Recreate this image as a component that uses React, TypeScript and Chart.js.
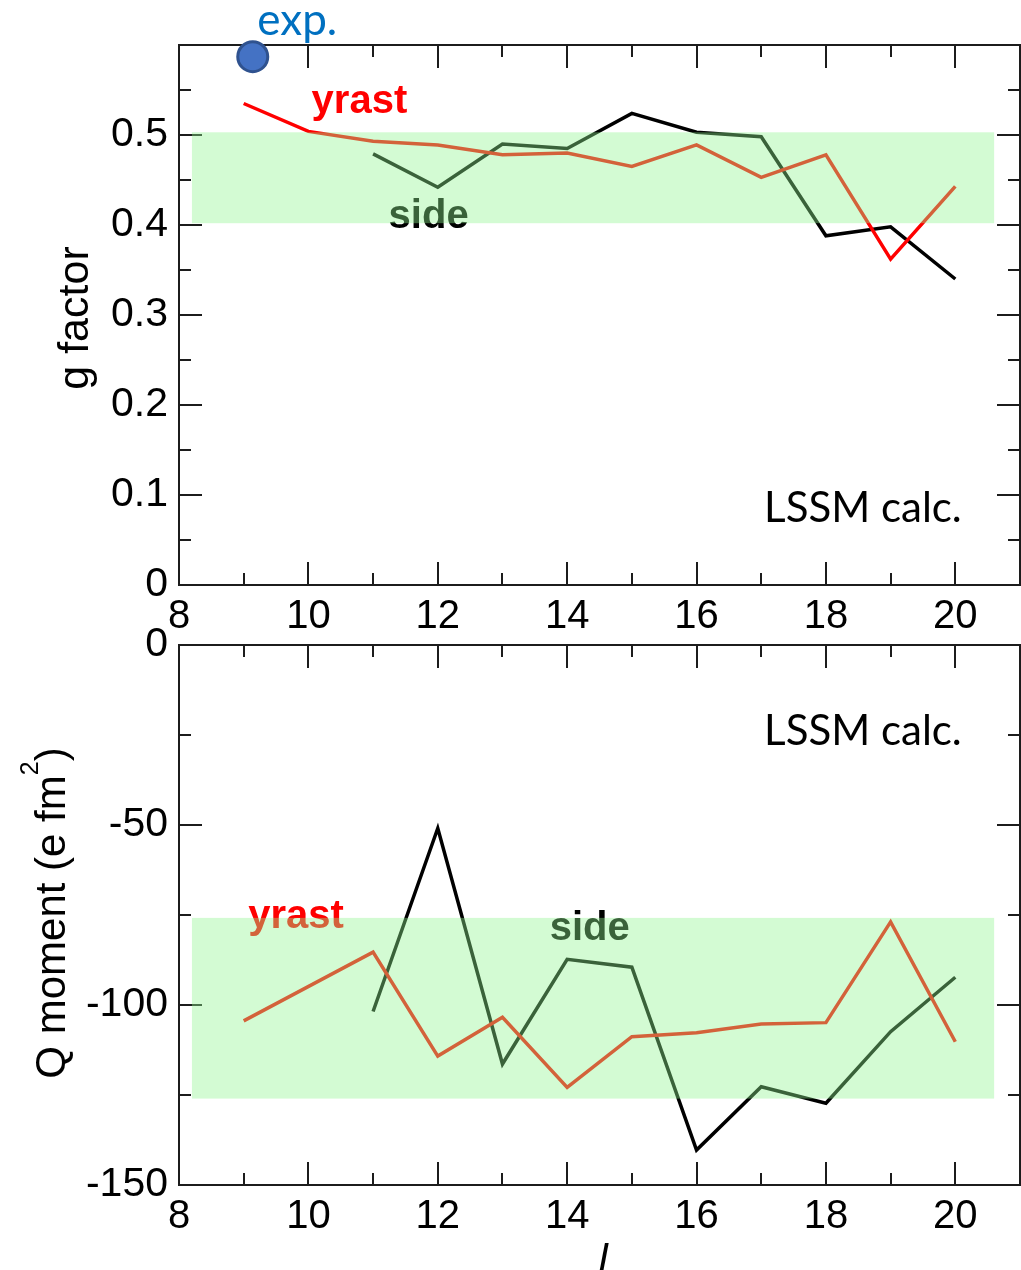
import React, { useEffect, useRef } from 'react';
import { Chart, registerables } from 'chart.js';

Chart.register(...registerables);

// ---------- data ----------
const gYrastSpin = [9, 10, 11, 12, 13, 14, 15, 16, 17, 18, 19, 20];
const gYrast = [0.535, 0.504, 0.493, 0.489, 0.478, 0.480, 0.465, 0.489, 0.453, 0.478, 0.362, 0.443];
const gSideSpin = [11, 12, 13, 14, 15, 16, 17, 18, 19, 20];
const gSide = [0.479, 0.442, 0.490, 0.485, 0.524, 0.503, 0.498, 0.388, 0.398, 0.340];

const qYrastSpin = [9, 11, 12, 13, 14, 15, 16, 17, 18, 19, 20];
const qYrast = [-104.4, -85.3, -114.2, -103.4, -122.9, -108.8, -107.7, -105.3, -104.9, -76.9, -110.2];
const qSideSpin = [11, 12, 13, 14, 15, 16, 17, 18, 19, 20];
const qSide = [-101.8, -50.9, -116.4, -87.3, -89.5, -140.3, -122.7, -127.3, -107.4, -92.3];

const expSpin = [9.14];
const expG = [0.587];

const xRange = [8, 21];
const gRange = [0, 0.6];
const qRange = [-150, 0];
const gBand = { x: [8.2, 20.6], y: [0.402, 0.503] };
const qBand = { x: [8.2, 20.6], y: [-126, -75.8] };

const TICK_FONT = 'Liberation Sans, Arial, Helvetica, sans-serif';
const NOTE_FONT = 'Lato, "Open Sans", sans-serif';

type Label = { text: string; x: number; y: number; color: string; font: string; align?: CanvasTextAlign };

type PanelCfg = {
  key: string;
  yMin: number;
  yMax: number;
  yMajor: number;
  yMinor: number;
  yHideTop: boolean;
  yFormat: (v: number) => string;
  padTop: number;
  xHeight: number;
  band: { x: number[]; y: number[] };
  underLabels: Label[];
  overLabels: Label[];
  yTitle: { parts: { t: string; size: number; rise: number }[]; baselineX: number; dy: number };
  xTitle?: { text: string; dy: number };
  datasets: any[];
};

function pts(xs: number[], ys: number[]) {
  return xs.map((x, i) => ({ x, y: ys[i] }));
}

function makePlugin(cfg: PanelCfg) {
  return {
    id: 'panel_' + cfg.key,
    beforeDatasetsDraw(chart: any) {
      const { ctx, chartArea: a, scales } = chart;
      const xs = scales.x;
      const ys = scales.y;
      ctx.save();
      ctx.strokeStyle = '#1c1c1c';
      ctx.lineWidth = 2;
      ctx.lineCap = 'butt';
      ctx.beginPath();
      for (let v = xRange[0] + 1; v < xRange[1]; v += 1) {
        const px = Math.round(xs.getPixelForValue(v));
        const len = v % 2 === 0 ? 23 : 12;
        ctx.moveTo(px, a.bottom);
        ctx.lineTo(px, a.bottom - len);
        ctx.moveTo(px, a.top);
        ctx.lineTo(px, a.top + len);
      }
      const n = Math.round((cfg.yMax - cfg.yMin) / cfg.yMinor);
      for (let k = 1; k < n; k++) {
        const v = cfg.yMin + k * cfg.yMinor;
        const r = v / cfg.yMajor;
        const major = Math.abs(r - Math.round(r)) < 1e-6;
        const len = major ? 23 : 12;
        const py = Math.round(ys.getPixelForValue(v));
        ctx.moveTo(a.left, py);
        ctx.lineTo(a.left + len, py);
        ctx.moveTo(a.right, py);
        ctx.lineTo(a.right - len, py);
      }
      ctx.stroke();
      ctx.strokeRect(a.left, a.top, a.right - a.left, a.bottom - a.top);
      ctx.restore();
    },
    afterDatasetsDraw(chart: any) {
      const { ctx, chartArea: a, scales } = chart;
      const xs = scales.x;
      const ys = scales.y;
      const drawLabel = (l: Label) => {
        ctx.font = l.font;
        ctx.fillStyle = l.color;
        ctx.textAlign = l.align || 'left';
        ctx.textBaseline = 'alphabetic';
        ctx.fillText(l.text, xs.getPixelForValue(l.x), ys.getPixelForValue(l.y));
      };
      ctx.save();
      cfg.underLabels.forEach(drawLabel);
      // translucent band drawn on top of lines and labels
      const bx0 = xs.getPixelForValue(cfg.band.x[0]);
      const bx1 = xs.getPixelForValue(cfg.band.x[1]);
      const by0 = ys.getPixelForValue(cfg.band.y[1]);
      const by1 = ys.getPixelForValue(cfg.band.y[0]);
      ctx.fillStyle = 'rgba(146,246,146,0.40)';
      ctx.fillRect(bx0, by0, bx1 - bx0, by1 - by0);
      cfg.overLabels.forEach(drawLabel);

      // y title (rotated)
      const t = cfg.yTitle;
      let total = 0;
      t.parts.forEach((p) => {
        ctx.font = `${p.size}px ${TICK_FONT}`;
        total += ctx.measureText(p.t).width;
      });
      ctx.translate(t.baselineX, (a.top + a.bottom) / 2 + t.dy);
      ctx.rotate(-Math.PI / 2);
      ctx.fillStyle = '#000';
      ctx.textAlign = 'left';
      ctx.textBaseline = 'alphabetic';
      let cx = -total / 2;
      t.parts.forEach((p) => {
        ctx.font = `${p.size}px ${TICK_FONT}`;
        ctx.fillText(p.t, cx, -p.rise);
        cx += ctx.measureText(p.t).width;
      });
      ctx.setTransform(1, 0, 0, 1, 0, 0);
      if (cfg.xTitle) {
        ctx.font = `italic 40px ${TICK_FONT}`;
        ctx.fillStyle = '#000';
        ctx.textAlign = 'center';
        ctx.fillText(cfg.xTitle.text, (a.left + a.right) / 2 + 4, a.bottom + cfg.xTitle.dy);
      }
      ctx.restore();
    },
  };
}

function makeConfig(cfg: PanelCfg): any {
  return {
    type: 'line',
    data: { datasets: cfg.datasets },
    options: {
      responsive: false,
      animation: false,
      events: [],
      devicePixelRatio: 1,
      layout: { autoPadding: false, padding: { top: cfg.padTop, right: 1, left: 0, bottom: 0 } },
      plugins: { legend: { display: false }, tooltip: { enabled: false }, title: { display: false } },
      scales: {
        x: {
          type: 'linear',
          min: xRange[0],
          max: xRange[1],
          grid: { display: false, drawTicks: false },
          border: { display: false },
          afterFit: (s: any) => {
            s.height = cfg.xHeight;
            s.paddingLeft = 0;
            s.paddingRight = 0;
          },
          ticks: {
            stepSize: 1,
            autoSkip: false,
            maxRotation: 0,
            minRotation: 0,
            padding: 8,
            color: '#000',
            font: { family: TICK_FONT, size: 40 },
            callback: (v: number) => (v % 2 === 0 && v <= 20 ? String(v) : ''),
          },
        },
        y: {
          type: 'linear',
          min: cfg.yMin,
          max: cfg.yMax,
          grid: { display: false, drawTicks: false },
          border: { display: false },
          afterFit: (s: any) => {
            s.width = 179;
            s.paddingTop = 0;
            s.paddingBottom = 0;
          },
          ticks: {
            stepSize: cfg.yMajor,
            autoSkip: false,
            padding: 11,
            color: '#000',
            font: { family: TICK_FONT, size: 41 },
            callback: (v: number) => (cfg.yHideTop && Math.abs(v - cfg.yMax) < 1e-9 ? '' : cfg.yFormat(v)),
          },
        },
      },
    },
    plugins: [makePlugin(cfg)],
  };
}

const lineDs = (data: any[], color: string) => ({
  data,
  borderColor: color,
  borderWidth: 3.5,
  pointRadius: 0,
  fill: false,
  tension: 0,
});

const topCfg: PanelCfg = {
  key: 'g',
  yMin: gRange[0],
  yMax: gRange[1],
  yMajor: 0.1,
  yMinor: 0.05,
  yHideTop: true,
  yFormat: (v) => (Math.abs(v) < 1e-9 ? '0' : v.toFixed(1)),
  padTop: 45,
  xHeight: 55,
  band: gBand,
  underLabels: [
    { text: 'yrast', x: 10.05, y: 0.525, color: '#ff0000', font: `bold 40px ${TICK_FONT}` },
    { text: 'side', x: 11.24, y: 0.397, color: '#000000', font: `bold 40px ${TICK_FONT}` },
  ],
  overLabels: [
    { text: 'LSSM calc.', x: 20.1, y: 0.07, color: '#000000', font: `42px ${NOTE_FONT}`, align: 'right' },
    { text: 'exp.', x: 9.21, y: 0.611, color: '#0070c0', font: `44px ${NOTE_FONT}` },
  ],
  yTitle: { parts: [{ t: 'g factor', size: 43, rise: 0 }], baselineX: 88, dy: 3 },
  datasets: [
    {
      data: pts(expSpin, expG),
      showLine: false,
      pointRadius: 15,
      pointBackgroundColor: '#4472c4',
      pointBorderColor: '#2f528f',
      pointBorderWidth: 3,
      clip: false,
    },
    lineDs(pts(gYrastSpin, gYrast), '#ff0000'),
    lineDs(pts(gSideSpin, gSide), '#000000'),
  ],
};

const bottomCfg: PanelCfg = {
  key: 'q',
  yMin: qRange[0],
  yMax: qRange[1],
  yMajor: 50,
  yMinor: 25,
  yHideTop: false,
  yFormat: (v) => String(Math.round(v)),
  padTop: 25,
  xHeight: 85,
  band: qBand,
  underLabels: [
    { text: 'yrast', x: 9.07, y: -78.6, color: '#ff0000', font: `bold 40px ${TICK_FONT}` },
    { text: 'side', x: 13.73, y: -82, color: '#000000', font: `bold 40px ${TICK_FONT}` },
  ],
  overLabels: [{ text: 'LSSM calc.', x: 20.1, y: -27.8, color: '#000000', font: `42px ${NOTE_FONT}`, align: 'right' }],
  yTitle: {
    parts: [
      { t: 'Q moment (e fm', size: 42, rise: 0 },
      { t: '2', size: 25, rise: 27 },
      { t: ')', size: 42, rise: 0 },
    ],
    baselineX: 65,
    dy: -2,
  },
  xTitle: { text: 'I', dy: 86 },
  datasets: [lineDs(pts(qYrastSpin, qYrast), '#ff0000'), lineDs(pts(qSideSpin, qSide), '#000000')],
};

function Panel({ cfg, top, height }: { cfg: PanelCfg; top: number; height: number }) {
  const ref = useRef<HTMLCanvasElement>(null);
  useEffect(() => {
    if (!ref.current) return;
    const chart = new Chart(ref.current, makeConfig(cfg));
    return () => chart.destroy();
  }, []);
  return (
    <canvas
      ref={ref}
      width={1021}
      height={height}
      style={{ position: 'absolute', left: 0, top, width: 1021, height }}
    />
  );
}

export default function App() {
  return (
    <div style={{ position: 'absolute', left: 0, top: 0, width: 1021, height: 1270, background: '#fff', overflow: 'hidden' }}>
      <Panel cfg={topCfg} top={0} height={640} />
      <Panel cfg={bottomCfg} top={620} height={650} />
    </div>
  );
}
